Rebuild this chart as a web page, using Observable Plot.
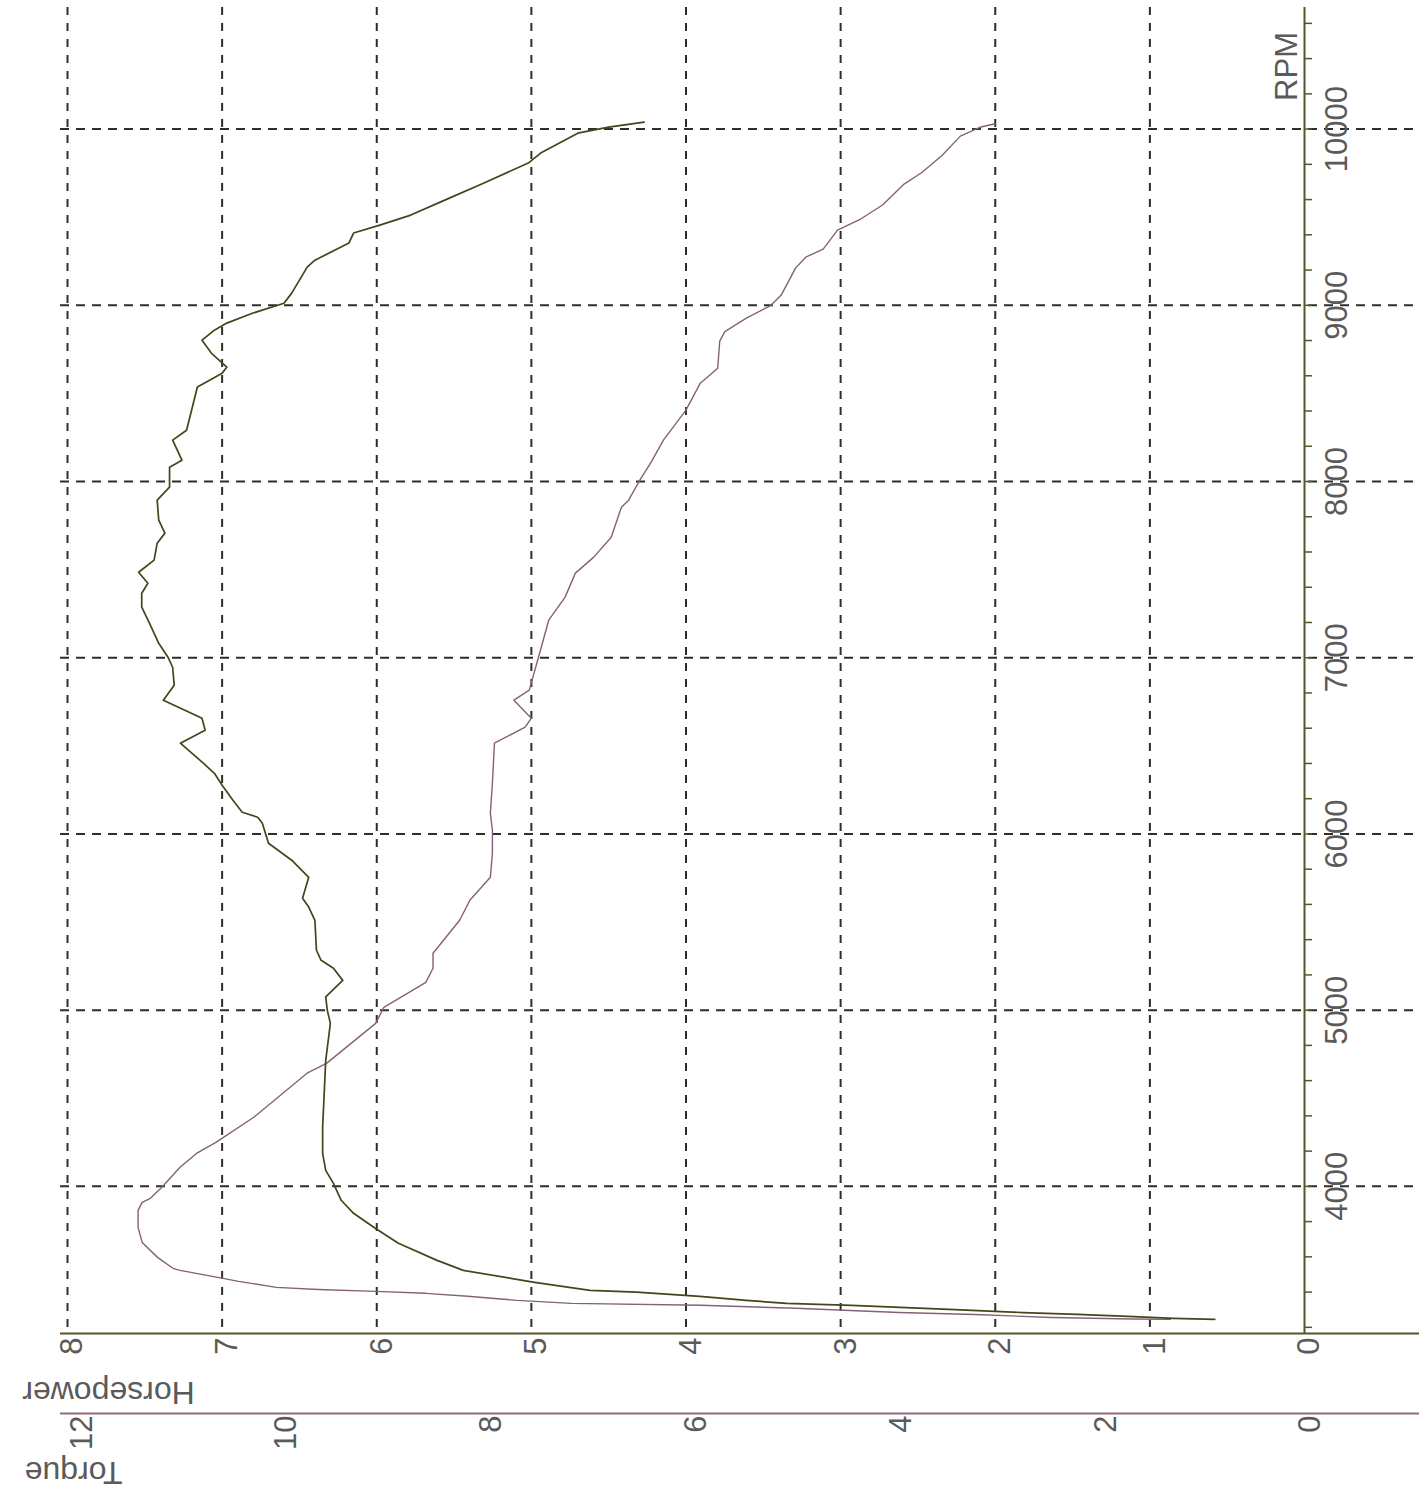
<!DOCTYPE html>
<html>
<head>
<meta charset="utf-8">
<script src="https://cdn.jsdelivr.net/npm/d3@7"></script>
<script src="https://cdn.jsdelivr.net/npm/@observablehq/plot@0.6"></script>
<style>
  html, body { margin: 0; padding: 0; background: #ffffff; }
  #chart svg { display: block; }
</style>
</head>
<body>
<div id="chart"></div>
<script>
// ---- Horsepower curve (RPM, HP) ----
const hpRpm = [3245, 3251, 3262, 3273, 3284, 3302, 3325, 3336, 3353, 3376,
  3400, 3410, 3457, 3523, 3580, 3677, 3762, 3847, 3921, 4017,
  4091, 4187, 4335, 4715, 4925, 5000, 5075, 5169, 5238, 5283,
  5340, 5510, 5585, 5635, 5754, 5851, 5947, 6061, 6095, 6123,
  6191, 6276, 6344, 6401, 6515, 6589, 6657, 6759, 6844, 6946,
  7003, 7082, 7196, 7287, 7366, 7423, 7485, 7554, 7650, 7707,
  7781, 7894, 7968, 8081, 8121, 8235, 8291, 8536, 8615, 8649,
  8729, 8802, 8859, 8899, 8956, 9012, 9069, 9217, 9256, 9353,
  9410, 9455, 9512, 9597, 9693, 9807, 9864, 9977, 10011, 10040];
const hpValues = [0.58, 0.85, 1.14, 1.47, 1.82, 2.30, 2.93, 3.35, 3.61, 3.91,
  4.32, 4.62, 4.99, 5.44, 5.61, 5.86, 6.01, 6.15, 6.23, 6.28,
  6.33, 6.35, 6.35, 6.33, 6.30, 6.32, 6.33, 6.22, 6.28, 6.36,
  6.39, 6.40, 6.44, 6.48, 6.44, 6.55, 6.70, 6.74, 6.77, 6.87,
  6.93, 7.00, 7.05, 7.12, 7.27, 7.11, 7.13, 7.38, 7.31, 7.32,
  7.35, 7.41, 7.47, 7.52, 7.52, 7.48, 7.54, 7.44, 7.42, 7.37,
  7.41, 7.42, 7.34, 7.34, 7.26, 7.32, 7.23, 7.16, 7.00, 6.97,
  7.07, 7.13, 7.05, 6.97, 6.80, 6.60, 6.55, 6.45, 6.40, 6.18,
  6.15, 5.98, 5.78, 5.56, 5.31, 5.02, 4.94, 4.70, 4.50, 4.27];

// ---- Torque curve (RPM, Torque) ----
const tqRpm = [3245, 3247, 3256, 3273, 3284, 3308, 3325, 3336, 3353, 3376,
  3393, 3404, 3415, 3427, 3461, 3478, 3523, 3535, 3597, 3682,
  3767, 3864, 3909, 3932, 3994, 4108, 4187, 4250, 4392, 4642,
  4698, 4925, 5016, 5158, 5238, 5323, 5510, 5624, 5754, 5890,
  6021, 6117, 6288, 6515, 6606, 6657, 6759, 6816, 7003, 7213,
  7344, 7480, 7571, 7684, 7854, 7894, 8008, 8110, 8235, 8405,
  8558, 8643, 8797, 8851, 8927, 9000, 9058, 9211, 9273, 9319,
  9427, 9491, 9569, 9688, 9752, 9850, 9960, 10012, 10030];
const tqValues = [1.31, 1.68, 2.47, 3.22, 3.96, 4.97, 5.90, 7.16, 7.69, 8.17,
  8.58, 9.07, 9.63, 10.04, 10.41, 10.56, 10.98, 11.05, 11.20, 11.35,
  11.39, 11.39, 11.35, 11.27, 11.16, 10.98, 10.82, 10.63, 10.26, 9.74,
  9.55, 9.07, 8.99, 8.58, 8.51, 8.51, 8.25, 8.15, 7.95, 7.93,
  7.93, 7.95, 7.93, 7.91, 7.61, 7.55, 7.72, 7.57, 7.48, 7.38,
  7.22, 7.12, 6.94, 6.77, 6.67, 6.60, 6.49, 6.38, 6.26, 6.04,
  5.90, 5.73, 5.71, 5.66, 5.45, 5.21, 5.11, 4.97, 4.87, 4.70,
  4.56, 4.33, 4.12, 3.91, 3.74, 3.54, 3.36, 3.16, 3.02];

// ---- Axes / ticks ----
const rpmAxisExtent = [3165, 10690];
const rpmTicks = [4000, 5000, 6000, 7000, 8000, 9000, 10000];
const rpmMinorTicks = [3200, 3400, 3600, 3800, 4000, 4200, 4400, 4600, 4800, 5000,
  5200, 5400, 5600, 5800, 6000, 6200, 6400, 6600, 6800, 7000,
  7200, 7400, 7600, 7800, 8000, 8200, 8400, 8600, 8800, 9000,
  9200, 9400, 9600, 9800, 10000, 10200, 10400, 10600];
const hpTicks = [0, 1, 2, 3, 4, 5, 6, 7, 8];
const hpGrid = [1, 2, 3, 4, 5, 6, 7, 8];
const tqTicks = [0, 2, 4, 6, 8, 10, 12];
const tqToHpAxis = 0.6623; // one torque unit expressed on the horsepower axis

const hpData = hpRpm.map((r, i) => ({rpm: r, value: hpValues[i]}));
const tqData = tqRpm.map((r, i) => ({rpm: r, value: tqValues[i]}));

const font = "'Liberation Sans', Arial, sans-serif";
const gridColor = "#2f2f28";
const axisColor = "#56562a";
const tqAxisColor = "#8e6c7e";
const hpColor = "#45451a";
const tqColor = "#86607a";
const labelColor = "#5a5a5a";

const chart = Plot.plot({
  width: 1419,
  height: 1492,
  marginLeft: 60,
  marginRight: 0,
  marginTop: 7,
  marginBottom: 159,
  style: {background: "#ffffff", fontFamily: font, overflow: "visible"},
  x: {domain: [0, 8], range: [1304, 67], axis: null},
  y: {domain: rpmAxisExtent, axis: null},
  marks: [
    Plot.ruleX(hpGrid, {stroke: gridColor, strokeWidth: 2, strokeDasharray: "8,8"}),
    Plot.ruleY(rpmTicks, {stroke: gridColor, strokeWidth: 2, strokeDasharray: "9,7"}),
    Plot.ruleX([0], {stroke: axisColor, strokeWidth: 2}),
    Plot.ruleY([rpmAxisExtent[0]], {stroke: axisColor, strokeWidth: 2}),
    Plot.ruleY([rpmAxisExtent[0]], {stroke: tqAxisColor, strokeWidth: 2, dy: 80}),
    Plot.axisY({anchor: "right", ticks: rpmMinorTicks, tickSize: 7, tickFormat: () => "",
      label: null, dx: -115, stroke: axisColor, strokeWidth: 1.5}),
    Plot.line(tqData, {x: d => d.value * tqToHpAxis, y: "rpm", stroke: tqColor, strokeWidth: 1.4}),
    Plot.line(hpData, {x: "value", y: "rpm", stroke: hpColor, strokeWidth: 1.7}),
    // Horsepower tick labels
    Plot.text(hpTicks, {x: d => d, text: d => String(d), frameAnchor: "bottom", dy: 4, dx: 5,
      rotate: -90, textAnchor: "end", lineAnchor: "middle", fontSize: 31, fontFamily: font, fill: labelColor}),
    // Torque tick labels
    Plot.text(tqTicks, {x: d => d * tqToHpAxis, text: d => String(d), frameAnchor: "bottom", dy: 82, dx: 6,
      rotate: -90, textAnchor: "end", lineAnchor: "middle", fontSize: 31, fontFamily: font, fill: labelColor}),
    // RPM tick labels
    Plot.text(rpmTicks, {x: () => 0, y: d => d, text: d => String(d), dx: 33,
      rotate: -90, textAnchor: "middle", lineAnchor: "middle", fontSize: 31, fontFamily: font, fill: labelColor}),
    // Axis titles
    Plot.text(["RPM"], {x: () => 0, text: d => d, frameAnchor: "top", dy: 59, dx: -17,
      rotate: -90, textAnchor: "middle", lineAnchor: "middle", fontSize: 31, fontFamily: font, fill: labelColor}),
    Plot.text(["Horsepower"], {text: d => d, frameAnchor: "bottom-left", dx: 48, dy: 59,
      rotate: 180, textAnchor: "middle", lineAnchor: "middle", fontSize: 32, fontFamily: font, fill: labelColor}),
    Plot.text(["Torque"], {text: d => d, frameAnchor: "bottom-left", dx: 13, dy: 139,
      rotate: 180, textAnchor: "middle", lineAnchor: "middle", fontSize: 32, fontFamily: font, fill: labelColor})
  ]
});

document.getElementById("chart").appendChild(chart);
</script>
</body>
</html>
